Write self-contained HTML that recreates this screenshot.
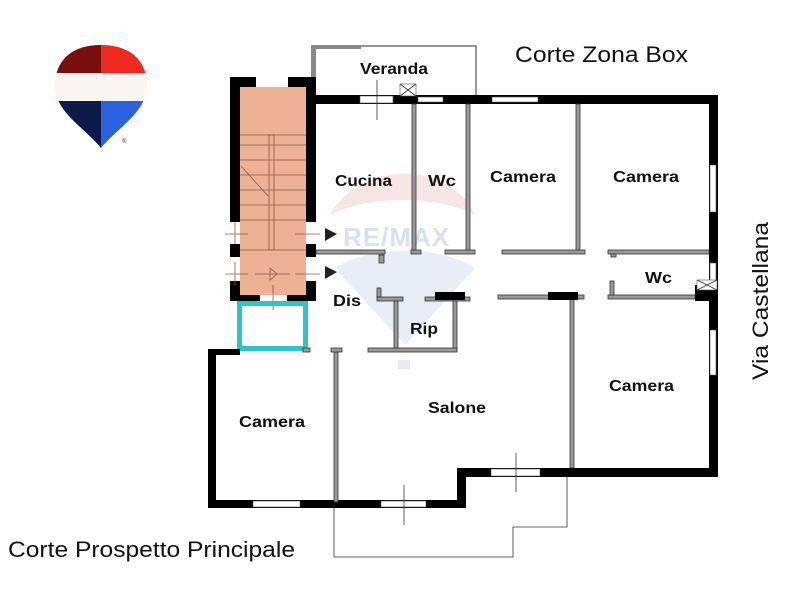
<!DOCTYPE html>
<html><head><meta charset="utf-8"><style>
html,body{margin:0;padding:0;background:#fff;}
svg{display:block;}
text{font-family:"Liberation Sans",Arial,sans-serif;}
</style></head><body>
<svg width="800" height="600" viewBox="0 0 800 600" xmlns="http://www.w3.org/2000/svg">
<rect width="800" height="600" fill="#fff"/>
<!-- logo -->
<defs><clipPath id="bal"><path d="M101,45 C68,45 55,64 55,86 C55,112 85,128 101,148 C117,128 147,112 147,86 C147,64 134,45 101,45 Z"/></clipPath></defs>
<g clip-path="url(#bal)">
<rect x="50" y="40" width="51" height="33" fill="#7a0d0d"/>
<rect x="101" y="40" width="50" height="33" fill="#ee2a1f"/>
<rect x="50" y="73" width="100" height="28" fill="#fbf6f1"/>
<rect x="50" y="101" width="51" height="50" fill="#0c1a4a"/>
<rect x="101" y="101" width="50" height="50" fill="#2a62e0"/>
</g>
<text x="122" y="143" font-size="6" fill="#333">®</text>

<!-- watermark -->
<path d="M330,215 C360,160 450,160 475,215 C440,195 365,195 330,215Z" fill="#f4d8d8" opacity="0.7"/>
<text x="343" y="246" font-size="26" font-weight="bold" fill="#d8e0f2" letter-spacing="1">RE/MAX</text>
<path d="M335,268 C370,245 440,245 475,268 L405,345 Z" fill="#e3e8f3" opacity="0.8"/>
<rect x="398" y="360" width="12" height="9" fill="#e6eaf2"/>

<!-- veranda -->
<path d="M313,95 V46 H476 V95" fill="none" stroke="#555" stroke-width="1.2"/>
<rect x="311" y="46" width="5" height="49" fill="#888"/>
<rect x="311" y="45" width="50" height="4" fill="#888"/>

<!-- stair block -->
<rect x="230" y="77" width="86" height="224" fill="#000"/>
<rect x="240" y="87" width="66" height="208" fill="#eeb196"/>
<rect x="256" y="77" width="32" height="10" fill="#fff"/>
<rect x="260" y="295" width="27" height="6" fill="#fff"/>
<rect x="230" y="222" width="10" height="22" fill="#fff"/>
<rect x="230" y="257" width="10" height="24" fill="#fff"/>
<rect x="306" y="222" width="10" height="22" fill="#fff"/>
<rect x="306" y="257" width="10" height="24" fill="#fff"/>
<g stroke="#8a5a48" stroke-width="0.8" fill="none">
<line x1="240" y1="135" x2="306" y2="135"/><line x1="240" y1="145" x2="306" y2="145"/>
<line x1="240" y1="160" x2="306" y2="160"/><line x1="240" y1="175" x2="306" y2="175"/>
<line x1="240" y1="190" x2="306" y2="190"/><line x1="240" y1="205" x2="306" y2="205"/>
<line x1="240" y1="220" x2="306" y2="220"/><line x1="240" y1="250" x2="306" y2="250"/>
<rect x="269" y="135" width="5" height="115"/>
<line x1="241" y1="166" x2="268" y2="196"/>
<line x1="225" y1="234" x2="248" y2="234"/><line x1="295" y1="234" x2="320" y2="234"/>
<line x1="225" y1="274" x2="248" y2="274"/><line x1="255" y1="274" x2="290" y2="274"/><line x1="295" y1="274" x2="320" y2="274"/>
<line x1="235" y1="222" x2="235" y2="244"/><line x1="235" y1="262" x2="235" y2="286"/>
<line x1="273" y1="285" x2="273" y2="310"/>
<path d="M270,268 L277,274 L270,280 Z"/>
</g>
<path d="M325,228 L337,234 L325,241Z M325,266 L337,272 L325,279Z" fill="#222"/>

<!-- cyan box -->
<rect x="239.5" y="303.5" width="66" height="45" fill="none" stroke="#2ec4cc" stroke-width="5"/>

<!-- outer walls -->
<g fill="#000">
<rect x="316" y="95" width="402" height="9"/>
<rect x="709" y="95" width="9" height="382"/>
<rect x="457" y="468" width="261" height="9"/>
<rect x="457" y="468" width="9" height="40"/>
<rect x="208" y="500" width="258" height="8"/>
<rect x="208" y="349" width="8" height="159"/>
<rect x="208" y="349" width="32" height="6"/>
<rect x="695" y="285" width="22" height="16"/>
</g>
<!-- windows -->
<g fill="#fff" stroke="#555" stroke-width="0.6">
<rect x="360" y="96" width="33" height="7"/>
<rect x="418" y="97" width="25" height="5"/>
<rect x="492" y="97" width="46" height="5"/>
<rect x="710" y="165" width="6" height="47"/>
<rect x="710" y="263" width="6" height="20"/>
<rect x="710" y="330" width="6" height="45"/>
<rect x="253" y="501" width="47" height="6"/>
<rect x="381" y="501" width="45" height="6"/>
<rect x="491" y="469" width="49" height="7"/>
<rect x="400" y="84" width="16" height="12"/>
<rect x="697" y="280" width="20" height="10"/>
</g>
<g stroke="#333" stroke-width="0.8" fill="none">
<path d="M400,84 L416,96 M416,84 L400,96 M697,280 L717,290 M717,280 L697,290"/>
<line x1="377" y1="80" x2="377" y2="120"/><line x1="404" y1="485" x2="404" y2="525"/>
<line x1="516" y1="453" x2="516" y2="492"/>
<path d="M334,505 V557 H513 V527 H567 V477"/>
</g>

<!-- interior walls -->
<g fill="#999" stroke="#333" stroke-width="0.8">
<rect x="412" y="104" width="4" height="148"/>
<rect x="466" y="104" width="4" height="148"/>
<rect x="576" y="104" width="4" height="148"/>
<rect x="316" y="250" width="69" height="4"/>
<rect x="411" y="250" width="10" height="4"/>
<rect x="445" y="250" width="30" height="4"/>
<rect x="502" y="250" width="83" height="4"/>
<rect x="608" y="250" width="101" height="4"/>
<rect x="611" y="254" width="5" height="3"/>
<rect x="379" y="255" width="5" height="8"/>
<rect x="608" y="295" width="87" height="4"/>
<rect x="610" y="281" width="4" height="14"/>
<rect x="498" y="295" width="86" height="4"/>
<rect x="570" y="299" width="4" height="169"/>
<rect x="377" y="297" width="26" height="4"/>
<rect x="377" y="288" width="4" height="9"/>
<rect x="394" y="301" width="4" height="49"/>
<rect x="425" y="297" width="45" height="4"/>
<rect x="453" y="301" width="4" height="49"/>
<rect x="368" y="348" width="89" height="4"/>
<rect x="334" y="352" width="4" height="150"/>
<rect x="331" y="348" width="11" height="4"/>
<rect x="303" y="348" width="7" height="4"/>
</g>
<rect x="548" y="292" width="30" height="8" fill="#000"/>
<rect x="435" y="292" width="30" height="8" fill="#000"/>

<!-- labels -->
<g font-size="16" font-weight="bold" fill="#111" lengthAdjust="spacingAndGlyphs">
<text x="360" y="74" textLength="68" lengthAdjust="spacingAndGlyphs">Veranda</text>
<text x="335" y="186" textLength="57" lengthAdjust="spacingAndGlyphs">Cucina</text>
<text x="428" y="186" textLength="28" lengthAdjust="spacingAndGlyphs">Wc</text>
<text x="490" y="182" textLength="66" lengthAdjust="spacingAndGlyphs">Camera</text>
<text x="613" y="182" textLength="66" lengthAdjust="spacingAndGlyphs">Camera</text>
<text x="645" y="283" textLength="27" lengthAdjust="spacingAndGlyphs">Wc</text>
<text x="333" y="306" textLength="28" lengthAdjust="spacingAndGlyphs">Dis</text>
<text x="410" y="334" textLength="28" lengthAdjust="spacingAndGlyphs">Rip</text>
<text x="428" y="413" textLength="58" lengthAdjust="spacingAndGlyphs">Salone</text>
<text x="239" y="427" textLength="66" lengthAdjust="spacingAndGlyphs">Camera</text>
<text x="609" y="391" textLength="65" lengthAdjust="spacingAndGlyphs">Camera</text>
</g>
<text x="515" y="62" font-size="22" fill="#111" textLength="173" lengthAdjust="spacingAndGlyphs">Corte Zona Box</text>
<text x="8" y="557" font-size="22" fill="#111" textLength="287" lengthAdjust="spacingAndGlyphs">Corte Prospetto Principale</text>
<text transform="translate(768,380) rotate(-90)" font-size="22" fill="#111" textLength="158" lengthAdjust="spacingAndGlyphs">Via Castellana</text>
</svg>
</body></html>
